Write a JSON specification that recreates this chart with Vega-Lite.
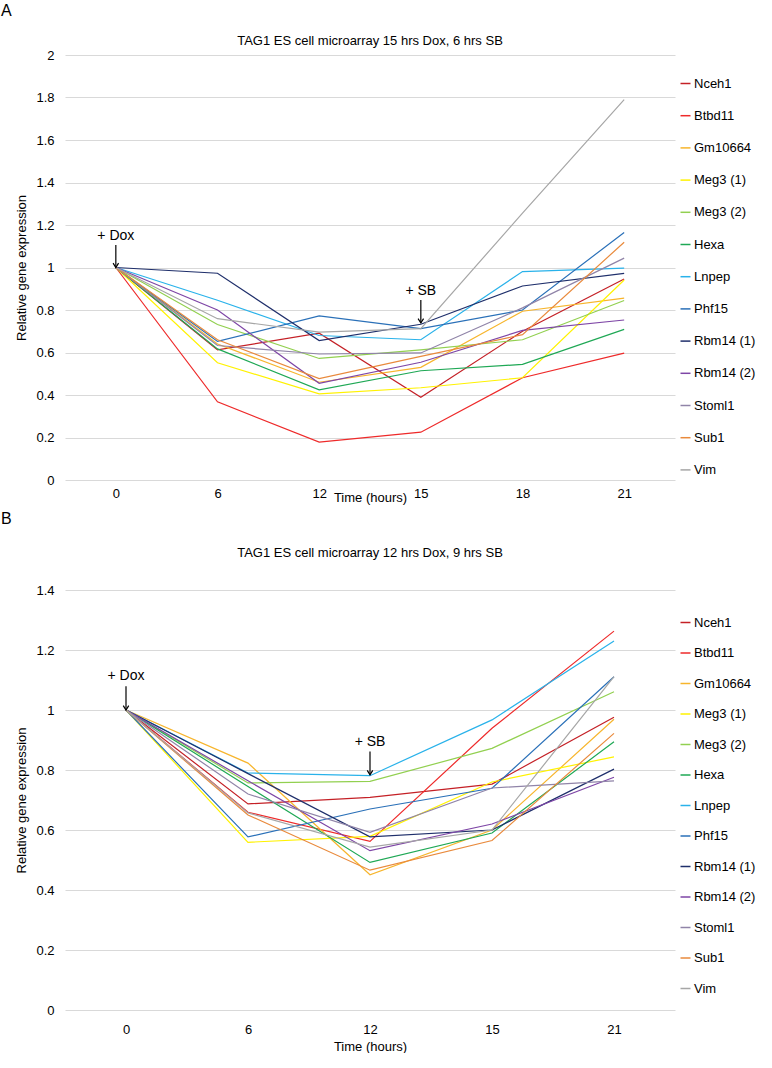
{
  "$schema": "https://vega.github.io/schema/vega-lite/v6.json",
  "padding": {"left": 0, "top": 3, "right": 0, "bottom": 0},
  "background": "white",
  "config": {
    "font": "Liberation Sans",
    "view": {"stroke": null},
    "axis": {"labelFont": "Liberation Sans", "labelFontSize": 13, "labelColor": "#000000", "titleFont": "Liberation Sans", "titleFontSize": 13, "titleFontWeight": "normal", "titleColor": "#000000", "gridColor": "#D9D9D9", "domainColor": "#BFBFBF", "tickColor": "#BFBFBF"},
    "legend": {"labelFont": "Liberation Sans", "labelFontSize": 13, "labelColor": "#000000", "symbolType": "stroke", "symbolStrokeWidth": 1.5, "symbolSize": 100, "labelOffset": 2},
    "title": {"font": "Liberation Sans", "fontWeight": "normal", "color": "#000000"}
  },
  "datasets": {
    "A": [
      {"gene": "Nceh1", "time": 0, "value": 1}, {"gene": "Nceh1", "time": 6, "value": 0.612}, {"gene": "Nceh1", "time": 12, "value": 0.691}, {"gene": "Nceh1", "time": 15, "value": 0.389}, {"gene": "Nceh1", "time": 18, "value": 0.70}, {"gene": "Nceh1", "time": 21, "value": 0.946},
      {"gene": "Btbd11", "time": 0, "value": 1}, {"gene": "Btbd11", "time": 6, "value": 0.368}, {"gene": "Btbd11", "time": 12, "value": 0.178}, {"gene": "Btbd11", "time": 15, "value": 0.225}, {"gene": "Btbd11", "time": 18, "value": 0.481}, {"gene": "Btbd11", "time": 21, "value": 0.597},
      {"gene": "Gm10664", "time": 0, "value": 1}, {"gene": "Gm10664", "time": 6, "value": 0.64}, {"gene": "Gm10664", "time": 12, "value": 0.46}, {"gene": "Gm10664", "time": 15, "value": 0.53}, {"gene": "Gm10664", "time": 18, "value": 0.794}, {"gene": "Gm10664", "time": 21, "value": 0.856},
      {"gene": "Meg3 (1)", "time": 0, "value": 1}, {"gene": "Meg3 (1)", "time": 6, "value": 0.552}, {"gene": "Meg3 (1)", "time": 12, "value": 0.405}, {"gene": "Meg3 (1)", "time": 15, "value": 0.434}, {"gene": "Meg3 (1)", "time": 18, "value": 0.481}, {"gene": "Meg3 (1)", "time": 21, "value": 0.941},
      {"gene": "Meg3 (2)", "time": 0, "value": 1}, {"gene": "Meg3 (2)", "time": 6, "value": 0.732}, {"gene": "Meg3 (2)", "time": 12, "value": 0.572}, {"gene": "Meg3 (2)", "time": 15, "value": 0.612}, {"gene": "Meg3 (2)", "time": 18, "value": 0.66}, {"gene": "Meg3 (2)", "time": 21, "value": 0.845},
      {"gene": "Hexa", "time": 0, "value": 1}, {"gene": "Hexa", "time": 6, "value": 0.617}, {"gene": "Hexa", "time": 12, "value": 0.424}, {"gene": "Hexa", "time": 15, "value": 0.514}, {"gene": "Hexa", "time": 18, "value": 0.544}, {"gene": "Hexa", "time": 21, "value": 0.709},
      {"gene": "Lnpep", "time": 0, "value": 1}, {"gene": "Lnpep", "time": 6, "value": 0.846}, {"gene": "Lnpep", "time": 12, "value": 0.68}, {"gene": "Lnpep", "time": 15, "value": 0.66}, {"gene": "Lnpep", "time": 18, "value": 0.981}, {"gene": "Lnpep", "time": 21, "value": 0.997},
      {"gene": "Phf15", "time": 0, "value": 1}, {"gene": "Phf15", "time": 6, "value": 0.652}, {"gene": "Phf15", "time": 12, "value": 0.772}, {"gene": "Phf15", "time": 15, "value": 0.712}, {"gene": "Phf15", "time": 18, "value": 0.80}, {"gene": "Phf15", "time": 21, "value": 1.165},
      {"gene": "Rbm14 (1)", "time": 0, "value": 1}, {"gene": "Rbm14 (1)", "time": 6, "value": 0.973}, {"gene": "Rbm14 (1)", "time": 12, "value": 0.656}, {"gene": "Rbm14 (1)", "time": 15, "value": 0.733}, {"gene": "Rbm14 (1)", "time": 18, "value": 0.913}, {"gene": "Rbm14 (1)", "time": 21, "value": 0.972},
      {"gene": "Rbm14 (2)", "time": 0, "value": 1}, {"gene": "Rbm14 (2)", "time": 6, "value": 0.80}, {"gene": "Rbm14 (2)", "time": 12, "value": 0.455}, {"gene": "Rbm14 (2)", "time": 15, "value": 0.554}, {"gene": "Rbm14 (2)", "time": 18, "value": 0.704}, {"gene": "Rbm14 (2)", "time": 21, "value": 0.753},
      {"gene": "Stoml1", "time": 0, "value": 1}, {"gene": "Stoml1", "time": 6, "value": 0.633}, {"gene": "Stoml1", "time": 12, "value": 0.593}, {"gene": "Stoml1", "time": 15, "value": 0.598}, {"gene": "Stoml1", "time": 18, "value": 0.81}, {"gene": "Stoml1", "time": 21, "value": 1.044},
      {"gene": "Sub1", "time": 0, "value": 1}, {"gene": "Sub1", "time": 6, "value": 0.66}, {"gene": "Sub1", "time": 12, "value": 0.477}, {"gene": "Sub1", "time": 15, "value": 0.582}, {"gene": "Sub1", "time": 18, "value": 0.684}, {"gene": "Sub1", "time": 21, "value": 1.119},
      {"gene": "Vim", "time": 0, "value": 1}, {"gene": "Vim", "time": 6, "value": 0.759}, {"gene": "Vim", "time": 12, "value": 0.696}, {"gene": "Vim", "time": 15, "value": 0.712}, {"gene": "Vim", "time": 18, "value": 1.256}, {"gene": "Vim", "time": 21, "value": 1.79}
    ],
    "B": [
      {"gene": "Nceh1", "time": 0, "value": 1}, {"gene": "Nceh1", "time": 6, "value": 0.687}, {"gene": "Nceh1", "time": 12, "value": 0.709}, {"gene": "Nceh1", "time": 15, "value": 0.753}, {"gene": "Nceh1", "time": 21, "value": 0.976},
      {"gene": "Btbd11", "time": 0, "value": 1}, {"gene": "Btbd11", "time": 6, "value": 0.659}, {"gene": "Btbd11", "time": 12, "value": 0.562}, {"gene": "Btbd11", "time": 15, "value": 0.939}, {"gene": "Btbd11", "time": 21, "value": 1.263},
      {"gene": "Gm10664", "time": 0, "value": 1}, {"gene": "Gm10664", "time": 6, "value": 0.823}, {"gene": "Gm10664", "time": 12, "value": 0.451}, {"gene": "Gm10664", "time": 15, "value": 0.60}, {"gene": "Gm10664", "time": 21, "value": 0.969},
      {"gene": "Meg3 (1)", "time": 0, "value": 1}, {"gene": "Meg3 (1)", "time": 6, "value": 0.559}, {"gene": "Meg3 (1)", "time": 12, "value": 0.579}, {"gene": "Meg3 (1)", "time": 15, "value": 0.76}, {"gene": "Meg3 (1)", "time": 21, "value": 0.844},
      {"gene": "Meg3 (2)", "time": 0, "value": 1}, {"gene": "Meg3 (2)", "time": 6, "value": 0.757}, {"gene": "Meg3 (2)", "time": 12, "value": 0.762}, {"gene": "Meg3 (2)", "time": 15, "value": 0.872}, {"gene": "Meg3 (2)", "time": 21, "value": 1.061},
      {"gene": "Hexa", "time": 0, "value": 1}, {"gene": "Hexa", "time": 6, "value": 0.745}, {"gene": "Hexa", "time": 12, "value": 0.492}, {"gene": "Hexa", "time": 15, "value": 0.59}, {"gene": "Hexa", "time": 21, "value": 0.894},
      {"gene": "Lnpep", "time": 0, "value": 1}, {"gene": "Lnpep", "time": 6, "value": 0.79}, {"gene": "Lnpep", "time": 12, "value": 0.781}, {"gene": "Lnpep", "time": 15, "value": 0.967}, {"gene": "Lnpep", "time": 21, "value": 1.23},
      {"gene": "Phf15", "time": 0, "value": 1}, {"gene": "Phf15", "time": 6, "value": 0.577}, {"gene": "Phf15", "time": 12, "value": 0.67}, {"gene": "Phf15", "time": 15, "value": 0.739}, {"gene": "Phf15", "time": 21, "value": 1.111},
      {"gene": "Rbm14 (1)", "time": 0, "value": 1}, {"gene": "Rbm14 (1)", "time": 6, "value": 0.788}, {"gene": "Rbm14 (1)", "time": 12, "value": 0.577}, {"gene": "Rbm14 (1)", "time": 15, "value": 0.60}, {"gene": "Rbm14 (1)", "time": 21, "value": 0.803},
      {"gene": "Rbm14 (2)", "time": 0, "value": 1}, {"gene": "Rbm14 (2)", "time": 6, "value": 0.764}, {"gene": "Rbm14 (2)", "time": 12, "value": 0.531}, {"gene": "Rbm14 (2)", "time": 15, "value": 0.62}, {"gene": "Rbm14 (2)", "time": 21, "value": 0.776},
      {"gene": "Stoml1", "time": 0, "value": 1}, {"gene": "Stoml1", "time": 6, "value": 0.72}, {"gene": "Stoml1", "time": 12, "value": 0.592}, {"gene": "Stoml1", "time": 15, "value": 0.74}, {"gene": "Stoml1", "time": 21, "value": 0.764},
      {"gene": "Sub1", "time": 0, "value": 1}, {"gene": "Sub1", "time": 6, "value": 0.65}, {"gene": "Sub1", "time": 12, "value": 0.466}, {"gene": "Sub1", "time": 15, "value": 0.565}, {"gene": "Sub1", "time": 21, "value": 0.922},
      {"gene": "Vim", "time": 0, "value": 1}, {"gene": "Vim", "time": 6, "value": 0.657}, {"gene": "Vim", "time": 12, "value": 0.543}, {"gene": "Vim", "time": 15, "value": 0.60}, {"gene": "Vim", "time": 21, "value": 1.111}
    ],
    "annA": [
      {"time": 0, "label": "+ Dox", "ty": 1.148, "y1": 1.106, "y2": 1.0},
      {"time": 15, "label": "+ SB", "ty": 0.891, "y1": 0.847, "y2": 0.739}
    ],
    "annB": [
      {"time": 0, "label": "+ Dox", "ty": 1.112, "y1": 1.079, "y2": 1.0},
      {"time": 12, "label": "+ SB", "ty": 0.895, "y1": 0.862, "y2": 0.784}
    ]
  },
  "resolve": {"legend": {"color": "independent"}},
  "spacing": 7,
  "vconcat": [
    {
      "title": {"text": "A", "anchor": "start", "frame": "bounds", "fontSize": 16, "offset": 16, "dx": -15},
      "resolve": {"legend": {"color": "independent"}},
      "vconcat": [
        {
          "title": {"text": "TAG1 ES cell microarray 15 hrs Dox, 6 hrs SB", "fontSize": 13, "offset": 1, "anchor": "middle"},
          "width": 610,
          "height": 425,
          "layer": [
            {
              "data": {"name": "A"},
              "mark": {"type": "line", "strokeWidth": 1.2},
              "encoding": {
                "x": {"field": "time", "type": "ordinal", "scale": {"type": "point", "padding": 0.5}, "axis": {"title": "Time (hours)", "labelAngle": 0, "grid": false, "ticks": false, "domain": false, "labelPadding": 7, "titlePadding": -9}},
                "y": {"field": "value", "type": "quantitative", "scale": {"domain": [0, 2], "nice": false}, "axis": {"title": "Relative gene expression", "values": [0, 0.2, 0.4, 0.6, 0.8, 1, 1.2, 1.4, 1.6, 1.8, 2], "format": "~f", "domain": false, "ticks": false, "labelPadding": 11, "titlePadding": 7}},
                "color": {"field": "gene", "type": "nominal", "sort": null,
                  "scale": {"domain": ["Nceh1", "Btbd11", "Gm10664", "Meg3 (1)", "Meg3 (2)", "Hexa", "Lnpep", "Phf15", "Rbm14 (1)", "Rbm14 (2)", "Stoml1", "Sub1", "Vim"],
                            "range": ["#C42026", "#EE2A2A", "#F7B52C", "#FFF200", "#92D050", "#1FA855", "#29B2EA", "#2A70B8", "#1F2F6B", "#7E46A6", "#9084A8", "#E98A3C", "#A6A6A6"]},
                  "legend": {"title": null, "orient": "none", "legendX": 614, "legendY": 22, "rowPadding": 18.2}}
              }
            },
            {
              "data": {"name": "annA"},
              "mark": {"type": "rule", "color": "#000000", "strokeWidth": 1.2},
              "encoding": {"x": {"field": "time", "type": "ordinal", "scale": {"type": "point", "padding": 0.5}}, "y": {"field": "y1", "type": "quantitative"}, "y2": {"field": "y2"}}
            },
            {
              "data": {"name": "annA"},
              "mark": {"type": "point", "shape": "M -1 -1.6 L 0 0 L 1 -1.6", "filled": false, "stroke": "#000000", "strokeWidth": 1.2, "size": 30, "opacity": 1},
              "encoding": {"x": {"field": "time", "type": "ordinal", "scale": {"type": "point", "padding": 0.5}}, "y": {"field": "y2", "type": "quantitative"}}
            },
            {
              "data": {"name": "annA"},
              "mark": {"type": "text", "fontSize": 14, "color": "#000000", "font": "Liberation Sans"},
              "encoding": {"x": {"field": "time", "type": "ordinal", "scale": {"type": "point", "padding": 0.5}}, "y": {"field": "ty", "type": "quantitative"}, "text": {"field": "label"}}
            }
          ]
        }
      ]
    },
    {
      "title": {"text": "B", "anchor": "start", "frame": "bounds", "fontSize": 16, "offset": 20, "dx": -15},
      "resolve": {"legend": {"color": "independent"}},
      "vconcat": [
        {
          "title": {"text": "TAG1 ES cell microarray 12 hrs Dox, 9 hrs SB", "fontSize": 13, "offset": 24, "anchor": "middle"},
          "width": 610,
          "height": 420,
          "layer": [
            {
              "data": {"name": "B"},
              "mark": {"type": "line", "strokeWidth": 1.2},
              "encoding": {
                "x": {"field": "time", "type": "ordinal", "scale": {"type": "point", "padding": 0.5}, "axis": {"title": "Time (hours)", "labelAngle": 0, "grid": false, "ticks": false, "domain": false, "labelPadding": 13, "titlePadding": 4}},
                "y": {"field": "value", "type": "quantitative", "scale": {"domain": [0, 1.4], "nice": false}, "axis": {"title": "Relative gene expression", "values": [0, 0.2, 0.4, 0.6, 0.8, 1, 1.2, 1.4], "format": "~f", "domain": false, "ticks": false, "labelPadding": 11, "titlePadding": 7}},
                "color": {"field": "gene", "type": "nominal", "sort": null,
                  "scale": {"domain": ["Nceh1", "Btbd11", "Gm10664", "Meg3 (1)", "Meg3 (2)", "Hexa", "Lnpep", "Phf15", "Rbm14 (1)", "Rbm14 (2)", "Stoml1", "Sub1", "Vim"],
                            "range": ["#C42026", "#EE2A2A", "#F7B52C", "#FFF200", "#92D050", "#1FA855", "#29B2EA", "#2A70B8", "#1F2F6B", "#7E46A6", "#9084A8", "#E98A3C", "#A6A6A6"]},
                  "legend": {"title": null, "orient": "none", "legendX": 614, "legendY": 26, "rowPadding": 16.5}}
              }
            },
            {
              "data": {"name": "annB"},
              "mark": {"type": "rule", "color": "#000000", "strokeWidth": 1.2},
              "encoding": {"x": {"field": "time", "type": "ordinal", "scale": {"type": "point", "padding": 0.5}}, "y": {"field": "y1", "type": "quantitative"}, "y2": {"field": "y2"}}
            },
            {
              "data": {"name": "annB"},
              "mark": {"type": "point", "shape": "M -1 -1.6 L 0 0 L 1 -1.6", "filled": false, "stroke": "#000000", "strokeWidth": 1.2, "size": 30, "opacity": 1},
              "encoding": {"x": {"field": "time", "type": "ordinal", "scale": {"type": "point", "padding": 0.5}}, "y": {"field": "y2", "type": "quantitative"}}
            },
            {
              "data": {"name": "annB"},
              "mark": {"type": "text", "fontSize": 14, "color": "#000000", "font": "Liberation Sans"},
              "encoding": {"x": {"field": "time", "type": "ordinal", "scale": {"type": "point", "padding": 0.5}}, "y": {"field": "ty", "type": "quantitative"}, "text": {"field": "label"}}
            }
          ]
        }
      ]
    }
  ]
}
